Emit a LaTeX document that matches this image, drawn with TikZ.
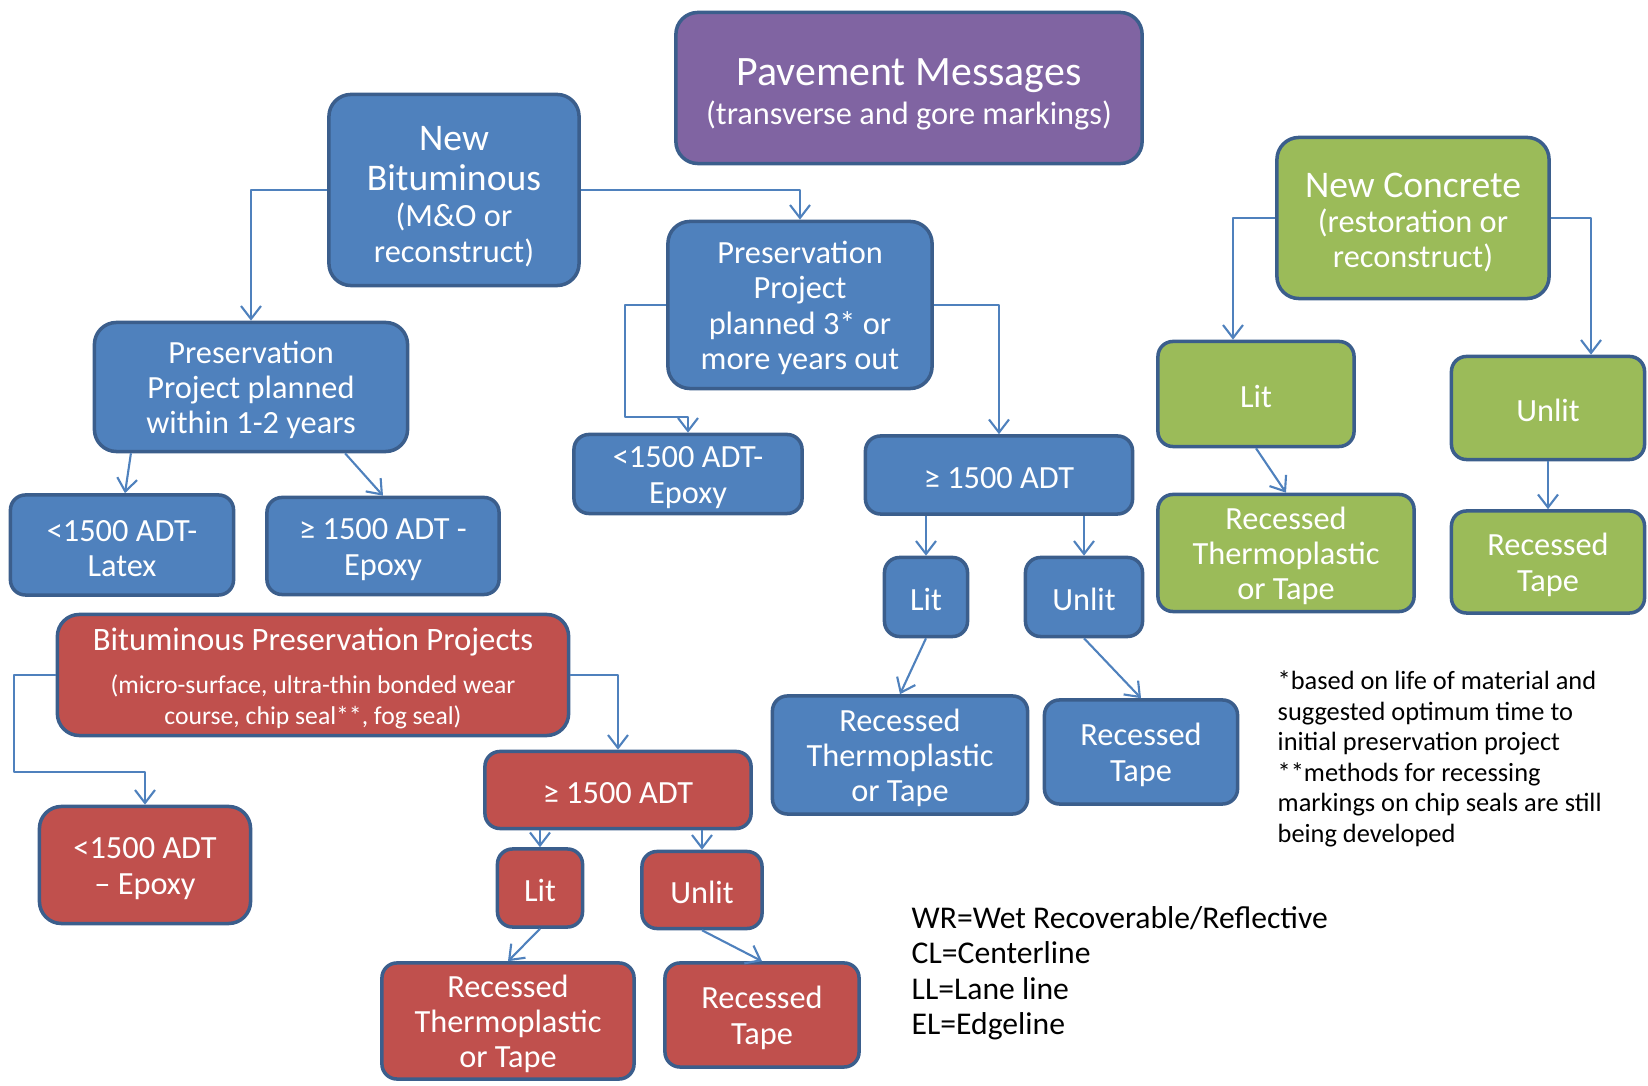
\documentclass[tikz,border=0pt]{standalone}
\usepackage{fontspec}
\setmainfont{Carlito}
\usetikzlibrary{arrows.meta,calc,positioning}
\definecolor{bluefill}{HTML}{4F81BD}
\definecolor{redfill}{HTML}{C0504D}
\definecolor{greenfill}{HTML}{9BBB59}
\definecolor{purplefill}{HTML}{8064A2}
\definecolor{edgec}{HTML}{3B5E8C}
\definecolor{linkc}{HTML}{4F81BD}
\tikzset{
  box/.style={draw=edgec,line width=1pt,rounded corners=0.22cm,text=white,align=center,inner sep=1pt,
    font=\fontsize{9.2}{10}\selectfont,execute at begin node={\rule{0pt}{8pt}}},
  bbox/.style={box,fill=bluefill},
  rbox/.style={box,fill=redfill},
  gbox/.style={box,fill=greenfill},
  small/.style={rounded corners=0.15cm},
  link/.style={draw=linkc,line width=0.6pt,->},
  note/.style={align=left,inner sep=0pt,anchor=north west}
}
\newcommand{\bigln}[1]{{\fontsize{10.7}{11.4}\selectfont #1}}
\newcommand{\st}{\rule{0pt}{8pt}}

\begin{document}
\begin{tikzpicture}[x=0.01cm,y=-0.01cm,>={Straight Barb[length=1.3mm,width=2mm]},line join=round]
\useasboundingbox (0,0) rectangle (1648,1086);
% --- top of the chart
\node[box,fill=purplefill,minimum width=4.66cm,minimum height=1.51cm] (pm) at (909,88)
  {\rule{0pt}{11.3pt}{\fontsize{11.9}{13}\selectfont Pavement Messages}\\[1pt](transverse and gore markings)};
% --- new bituminous branch (blue)
\node[bbox,minimum width=2.5cm,minimum height=1.91cm] (nb) at (454,190)
  {\rule{0pt}{10.5pt}\bigln{New}\\[1.5pt]\bigln{Bituminous}\\[0.3pt](M\&O or\\reconstruct)};
\node[bbox,minimum width=3.13cm,minimum height=1.29cm] (pp12) at (251,387)
  {\st Preservation\\Project planned\\within 1-2 years};
\node[bbox,minimum width=2.64cm,minimum height=1.67cm] (pp3) at (800,305)
  {\st Preservation\\Project\\planned 3* or\\more years out};
\node[bbox,small,minimum width=2.23cm,minimum height=1cm] (latex) at (122,545) {\st<1500 ADT-\\Latex};
\node[bbox,small,minimum width=2.32cm,minimum height=0.97cm] (epoxy1) at (383,546) {\st≥ 1500 ADT -\\Epoxy};
\node[bbox,small,minimum width=2.28cm,minimum height=0.79cm] (epoxy2) at (688,474) {\st<1500 ADT-\\Epoxy};
\node[bbox,small,minimum width=2.67cm,minimum height=0.78cm] (adtb) at (999,475) {≥ 1500 ADT};
\node[bbox,small,minimum width=0.83cm,minimum height=0.79cm] (litb) at (926,597) {Lit};
\node[bbox,small,minimum width=1.17cm,minimum height=0.79cm] (unlitb) at (1084,597) {Unlit};
\node[bbox,small,minimum width=2.55cm,minimum height=1.18cm] (thermb) at (900,755) {\st Recessed\\Thermoplastic\\or Tape};
\node[bbox,small,minimum width=1.93cm,minimum height=1.04cm] (tapeb) at (1141,752) {\st Recessed\\Tape};
% --- new concrete branch (green)
\node[gbox,minimum width=2.72cm,minimum height=1.61cm] (nc) at (1413,218)
  {\rule{0pt}{9.6pt}\bigln{New Concrete}\\(restoration or\\reconstruct)};
\node[gbox,small,minimum width=1.96cm,minimum height=1.05cm] (litc) at (1256,394) {Lit};
\node[gbox,small,minimum width=1.93cm,minimum height=1.03cm] (unlitc) at (1548,408) {Unlit};
\node[gbox,small,minimum width=2.56cm,minimum height=1.17cm] (thermc) at (1286,553) {\st Recessed\\Thermoplastic\\or Tape};
\node[gbox,small,minimum width=1.93cm,minimum height=1.02cm] (tapec) at (1548,562) {\st Recessed\\Tape};
% --- bituminous preservation branch (red)
\node[rbox,minimum width=5.11cm,minimum height=1.21cm] (bpp) at (313,675)
  {\rule{0pt}{8.5pt}{\fontsize{9.3}{10}\selectfont Bituminous Preservation Projects}\\[2pt]
   {\fontsize{7.3}{9}\selectfont (micro-surface, ultra-thin bonded wear}\\[-1.1pt]
   {\fontsize{7.3}{9}\selectfont course, chip seal**, fog seal)}};
\node[rbox,minimum width=2.11cm,minimum height=1.17cm] (epoxyr) at (145,865) {\st<1500 ADT\\– Epoxy};
\node[rbox,small,minimum width=2.66cm,minimum height=0.77cm] (adtr) at (618,790) {≥ 1500 ADT};
\node[rbox,small,minimum width=0.85cm,minimum height=0.78cm] (litr) at (540,888) {Lit};
\node[rbox,small,minimum width=1.2cm,minimum height=0.77cm] (unlitr) at (702,890) {Unlit};
\node[rbox,small,minimum width=2.52cm,minimum height=1.16cm] (thermr) at (508,1021) {\st Recessed\\Thermoplastic\\or Tape};
\node[rbox,small,minimum width=1.94cm,minimum height=1.04cm] (taper) at (762,1015) {\st Recessed\\Tape};
% --- notes
\node[note,font=\fontsize{7.5}{8.7}\selectfont] (fn) at (1277,670)
  {*based on life of material and\\suggested optimum time to\\initial preservation project\\**methods for recessing\\markings on chip seals are still\\being developed};
\node[note,font=\fontsize{9}{10}\selectfont] (legend) at (911,906)
  {WR=Wet Recoverable/Reflective\\CL=Centerline\\LL=Lane line\\EL=Edgeline};
% --- connectors
\draw[link] (nb.west) -| (pp12.north);
\draw[link] (nb.east) -| (pp3.north);
\draw[link] (pp3.west) -- ++(-41,0) -- ++(0,112) -| (epoxy2.north);
\draw[link] (pp3.east) -| (adtb.north);
\draw[link] ([xshift=-1.2cm]pp12.south) -- ([xshift=0.03cm]latex.north);
\draw[link] ([xshift=0.94cm]pp12.south) -- (epoxy1.north);
\draw[link] (litb.north |- adtb.south) -- (litb.north);
\draw[link] (unlitb.north |- adtb.south) -- (unlitb.north);
\draw[link] (litb.south) -- (thermb.north);
\draw[link] (unlitb.south) -- (tapeb.north);
\draw[link] (nc.west) -| ([xshift=-0.23cm]litc.north);
\draw[link] (nc.east) -| ([xshift=0.43cm]unlitc.north);
\draw[link] (litc.south) -- (thermc.north);
\draw[link] (unlitc.south) -- (tapec.north);
\draw[link] (bpp.west) -- ++(-42,0) -- ++(0,97) -| (epoxyr.north);
\draw[link] (bpp.east) -| (adtr.north);
\draw[link] (litr.north |- adtr.south) -- (litr.north);
\draw[link] (unlitr.north |- adtr.south) -- (unlitr.north);
\draw[link] (litr.south) -- (thermr.north);
\draw[link] (unlitr.south) -- (taper.north);
\end{tikzpicture}
\end{document}
